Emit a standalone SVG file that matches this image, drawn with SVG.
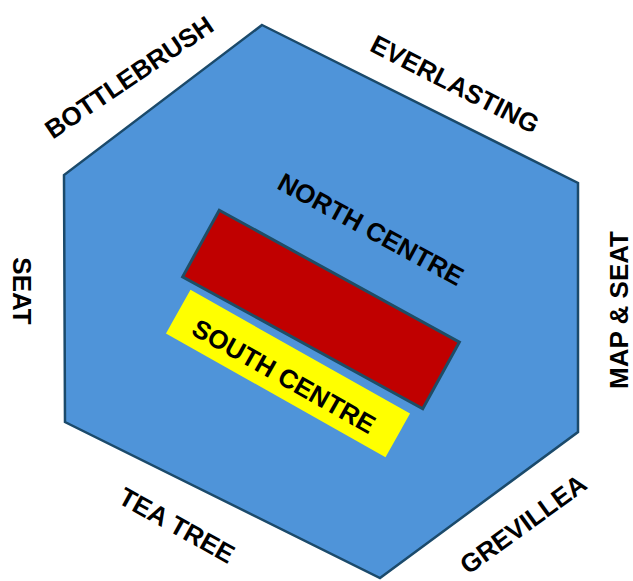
<svg xmlns="http://www.w3.org/2000/svg" width="633" height="581" viewBox="0 0 633 581">
<style>
.lbl{font-family:"Liberation Sans",Arial,sans-serif;font-weight:bold;font-size:26px;fill:#000;text-anchor:middle}
</style>
<rect width="633" height="581" fill="#fff"/>
<g id="hexagon">
<polygon points="262,25 578,183 578,432 380,578 65,422 64,175" fill="#4F94D9" stroke="#1B4A6B" stroke-width="2.5"/>
</g>
<g id="north-centre">
<rect x="-137" y="-38" width="274" height="76" transform="translate(321,309.5) rotate(28.8)" fill="#C00000" stroke="#1E4D66" stroke-width="3"/>
<text class="lbl" transform="translate(371,229) rotate(28.5)" y="9.3">NORTH CENTRE</text>
</g>
<g id="south-centre">
<rect x="-126" y="-25" width="252" height="50" transform="translate(288,373.5) rotate(29.4)" fill="#FFFF00"/>
<text class="lbl" transform="translate(284,376) rotate(29.4)" y="9.3">SOUTH CENTRE</text>
</g>
<g id="bottlebrush"><text class="lbl" transform="translate(129,77) rotate(-34)" y="9.3">BOTTLEBRUSH</text></g>
<g id="everlasting"><text class="lbl" transform="translate(455,84) rotate(27)" y="9.3">EVERLASTING</text></g>
<g id="seat"><text class="lbl" transform="translate(22,291) rotate(90)" y="9.3">SEAT</text></g>
<g id="map-seat"><text class="lbl" transform="translate(619,310) rotate(-90)" y="9.3">MAP &amp; SEAT</text></g>
<g id="tea-tree"><text class="lbl" transform="translate(177,525) rotate(29)" y="9.3">TEA TREE</text></g>
<g id="grevillea"><text class="lbl" transform="translate(523,524) rotate(-36)" y="9.3">GREVILLEA</text></g>
<g id="connectors"/>
</svg>
